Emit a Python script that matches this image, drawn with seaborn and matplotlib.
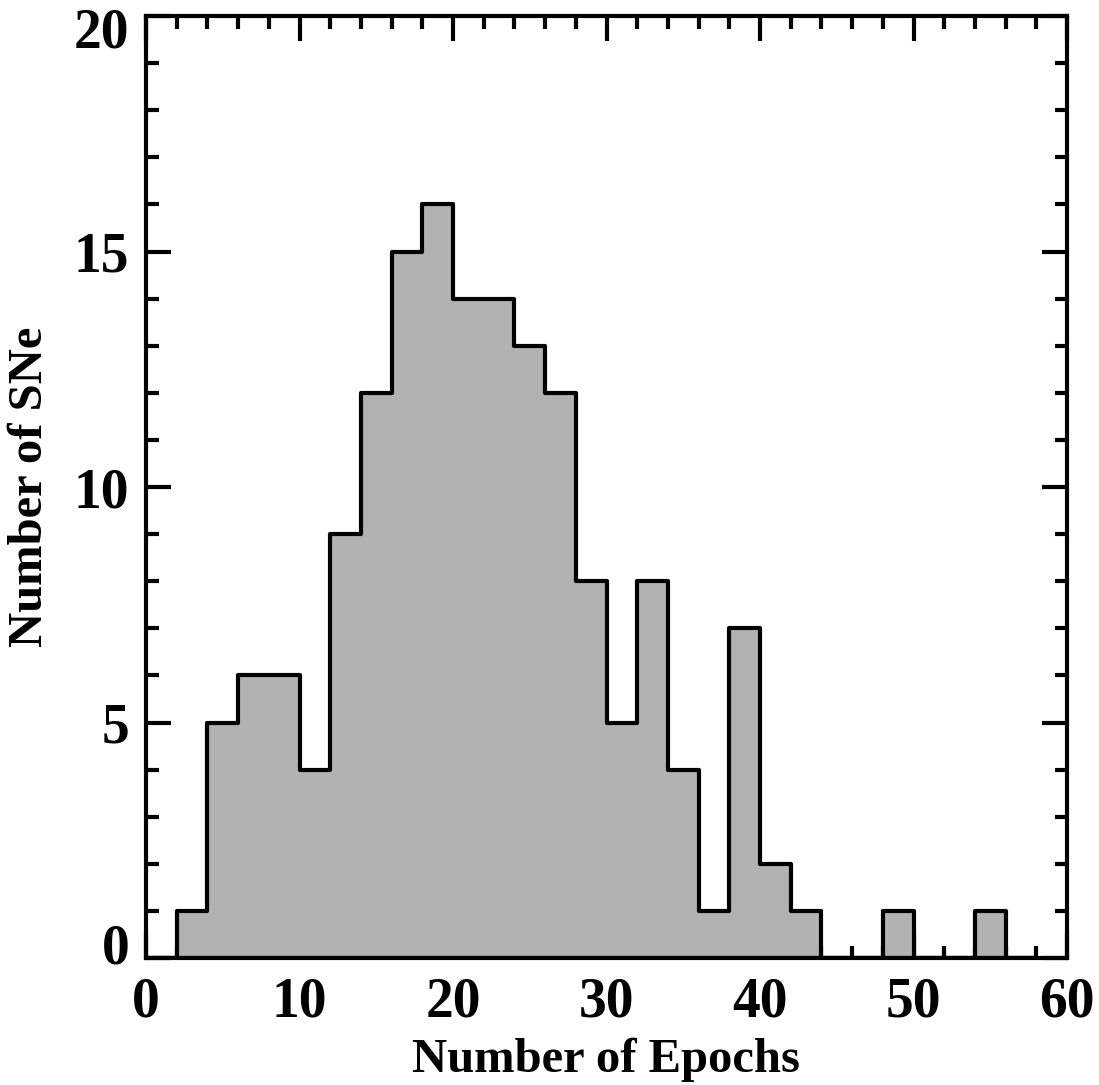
import numpy as np
import pandas as pd
import matplotlib
matplotlib.use("Agg")
import matplotlib.pyplot as plt
import matplotlib.transforms as mtransforms
import seaborn as sns
from matplotlib.ticker import MultipleLocator

bin_edges = list(range(0, 60, 2))  # 0..58
counts = [0, 1, 5, 6, 6, 4, 9, 12, 15, 16, 14, 14, 13, 12, 8, 5, 8, 4, 1, 7, 2, 1, 0, 0, 1, 0, 0, 1, 0]
x_ticks = [0, 10, 20, 30, 40, 50, 60]
y_ticks = [0, 5, 10, 15, 20]

sns.set_style("ticks")
plt.rcParams['font.family'] = ['Liberation Serif', 'DejaVu Serif']
plt.rcParams['font.weight'] = 'bold'
plt.rcParams['text.color'] = 'black'
plt.rcParams['axes.labelcolor'] = 'black'
plt.rcParams['xtick.color'] = 'black'
plt.rcParams['ytick.color'] = 'black'

centers = [e + 1 for e in bin_edges[:len(counts)]]
df = pd.DataFrame({"epochs": centers, "n": counts})

fig = plt.figure(figsize=(10.99, 10.85), dpi=100)
ax = fig.add_axes([146/1099, 1 - 958/1085, (1067-146)/1099, (958-16)/1085])

sns.histplot(data=df, x="epochs", weights="n", bins=bin_edges, element="step",
             fill=True, color="#b2b2b2", alpha=1.0, edgecolor="black", linewidth=3.0, ax=ax)

ax.set_xlim(0, 60)
ax.set_ylim(0, 20)
ax.set_xticks(x_ticks)
ax.set_yticks(y_ticks)
ax.set_xticklabels([str(t) for t in x_ticks])
ax.set_yticklabels([str(t) for t in y_ticks])
ax.xaxis.set_minor_locator(MultipleLocator(2))
ax.yaxis.set_minor_locator(MultipleLocator(1))
ax.tick_params(which='both', direction='in', top=True, right=True, width=3, colors='black')
ax.tick_params(which='major', length=18, labelsize=40)
ax.tick_params(axis='x', which='major', pad=13)
ax.tick_params(axis='y', which='major', pad=12)
ax.tick_params(which='minor', length=9)
for lab in ax.get_xticklabels() + ax.get_yticklabels():
    lab.set_fontweight('bold')
ylabs = ax.get_yticklabels()
ylabs[0].set_transform(ylabs[0].get_transform() +
                       mtransforms.ScaledTranslation(0, 0.15, fig.dpi_scale_trans))
ylabs[-1].set_transform(ylabs[-1].get_transform() +
                        mtransforms.ScaledTranslation(0, -0.11, fig.dpi_scale_trans))
for s in ax.spines.values():
    s.set_linewidth(3)
    s.set_color('black')
ax.set_xlabel("Number of Epochs", fontsize=35, fontweight='bold', labelpad=7)
ax.set_ylabel("Number of SNe", fontsize=35, fontweight='bold', labelpad=16)

fig.savefig("out.png", dpi=100)
